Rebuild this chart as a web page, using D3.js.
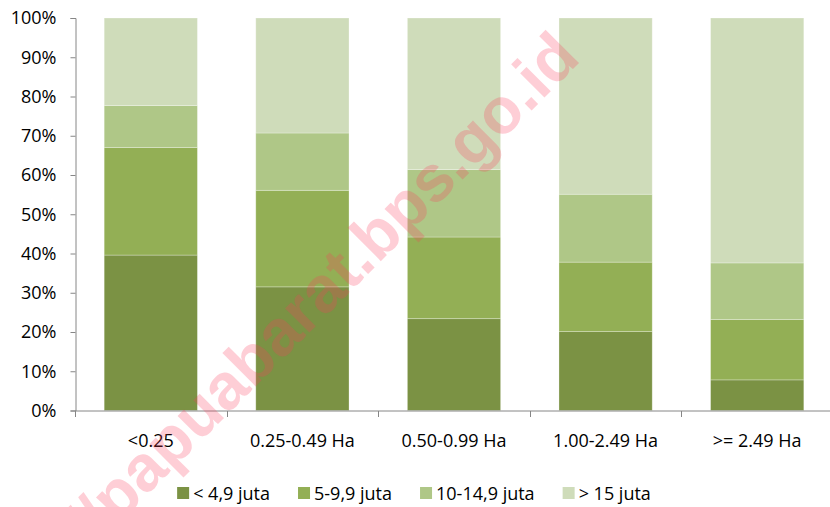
<!DOCTYPE html>
<html>
<head>
<meta charset="utf-8">
<script src="https://cdn.jsdelivr.net/npm/d3@7"></script>
<style>
  body { margin: 0; background: #fff; }
  svg text { font-family: "Open Sans", sans-serif; fill: #000; }
</style>
</head>
<body>
<div id="chart"></div>
<script>
// categories (land size)
var categories = ["<0.25", "0.25-0.49 Ha", "0.50-0.99 Ha", "1.00-2.49 Ha", ">= 2.49 Ha"];
// income groups, stacked bottom to top
var seriesNames = ["< 4,9 juta", "5-9,9 juta", "10-14,9 juta", "> 15 juta"];
var lowest  = [39.6, 31.5, 23.4, 20.1, 7.8];
var low     = [27.4, 24.6, 20.8, 17.7, 15.4];
var mid     = [10.7, 14.6, 17.2, 17.3, 14.4];
var highest = [22.3, 29.3, 38.6, 44.9, 62.4];
var yTicks = [0, 10, 20, 30, 40, 50, 60, 70, 80, 90, 100];
var colors = ["#7b9244", "#93af55", "#afc787", "#cfdcba"];

var width = 830, height = 507;
var margin = {top: 18, right: -3, bottom: 96, left: 75};
var fontSize = "18px";

var svg = d3.select("#chart").append("svg")
    .attr("width", width)
    .attr("height", height);

var rows = categories.map(function(c, i) {
    return {cat: c, s0: lowest[i], s1: low[i], s2: mid[i], s3: highest[i]};
});
var layers = d3.stack().keys(["s0", "s1", "s2", "s3"])(rows);

var x = d3.scaleBand()
    .domain(categories)
    .range([margin.left, width - margin.right])
    .paddingInner(0.385)
    .paddingOuter(0.1925);

var y = d3.scaleLinear()
    .domain([0, 100])
    .range([height - margin.bottom - 0.5, margin.top]);

// bars
svg.append("g").selectAll("g")
    .data(layers)
    .enter().append("g")
    .attr("fill", function(d, i) { return colors[i]; })
    .selectAll("rect")
    .data(function(d) { return d; })
    .enter().append("rect")
    .attr("x", function(d) { return x(d.data.cat); })
    .attr("width", x.bandwidth())
    .attr("y", function(d) { return y(d[1]); })
    .attr("height", function(d) { return y(d[0]) - y(d[1]); })
    .attr("stroke", "#fff")
    .attr("stroke-opacity", 0.35)
    .attr("stroke-width", 0.8);

// y axis
var yAxis = d3.axisLeft(y)
    .tickValues(yTicks)
    .tickSize(5)
    .tickPadding(14)
    .tickFormat(function(d) { return d + "%"; });

var gy = svg.append("g")
    .attr("transform", "translate(" + (margin.left + 0.5) + ",0)")
    .call(yAxis);
gy.select(".domain").attr("stroke", "#868686");
gy.selectAll(".tick line").attr("stroke", "#868686");
gy.selectAll("text")
    .style("font-size", fontSize)
    .style("font-family", "'Open Sans', sans-serif");

// x axis: ticks at band boundaries
var step = x.step();
var xEdges = d3.range(categories.length + 1).map(function(i) { return margin.left + i * step; });
var gx = svg.append("g")
    .attr("transform", "translate(0," + (y(0) + 0.5) + ")");
gx.append("line")
    .attr("x1", margin.left).attr("x2", width)
    .attr("stroke", "#868686");
gx.selectAll(".edge")
    .data(xEdges)
    .enter().append("line")
    .attr("class", "edge")
    .attr("x1", function(d) { return Math.round(d) + 0.5; })
    .attr("x2", function(d) { return Math.round(d) + 0.5; })
    .attr("y1", 0).attr("y2", 6)
    .attr("stroke", "#868686");
gx.selectAll(".lbl")
    .data(categories)
    .enter().append("text")
    .attr("class", "lbl")
    .attr("x", function(d) { return x(d) + x.bandwidth() / 2; })
    .attr("y", 36)
    .attr("text-anchor", "middle")
    .style("font-size", fontSize)
    .text(function(d) { return d; });

// legend
var legend = svg.append("g");
var items = legend.selectAll("g")
    .data(seriesNames)
    .enter().append("g");
items.append("rect")
    .attr("width", 12).attr("height", 12)
    .attr("y", 487)
    .attr("fill", function(d, i) { return colors[i]; });
items.append("text")
    .attr("x", 16)
    .attr("y", 500)
    .style("font-size", fontSize)
    .text(function(d) { return d; });
var gap = 28, cursor = 0;
items.each(function() {
    var w = d3.select(this).select("text").node().getComputedTextLength();
    d3.select(this).attr("transform", "translate(" + cursor + ",0)");
    cursor += 16 + w + gap;
});
var legendWidth = cursor - gap;
legend.attr("transform", "translate(" + (414 - legendWidth / 2) + ",0)");

// watermark
svg.append("text")
    .attr("transform", "translate(582,60) rotate(-45)")
    .attr("text-anchor", "end")
    .style("font-family", "'Liberation Sans', Arial, sans-serif")
    .style("font-weight", "bold")
    .style("font-size", "65px")
    .style("fill", "#fa3c5a")
    .style("fill-opacity", 0.25)
    .text("https://papuabarat.bps.go.id");
</script>
</body>
</html>
